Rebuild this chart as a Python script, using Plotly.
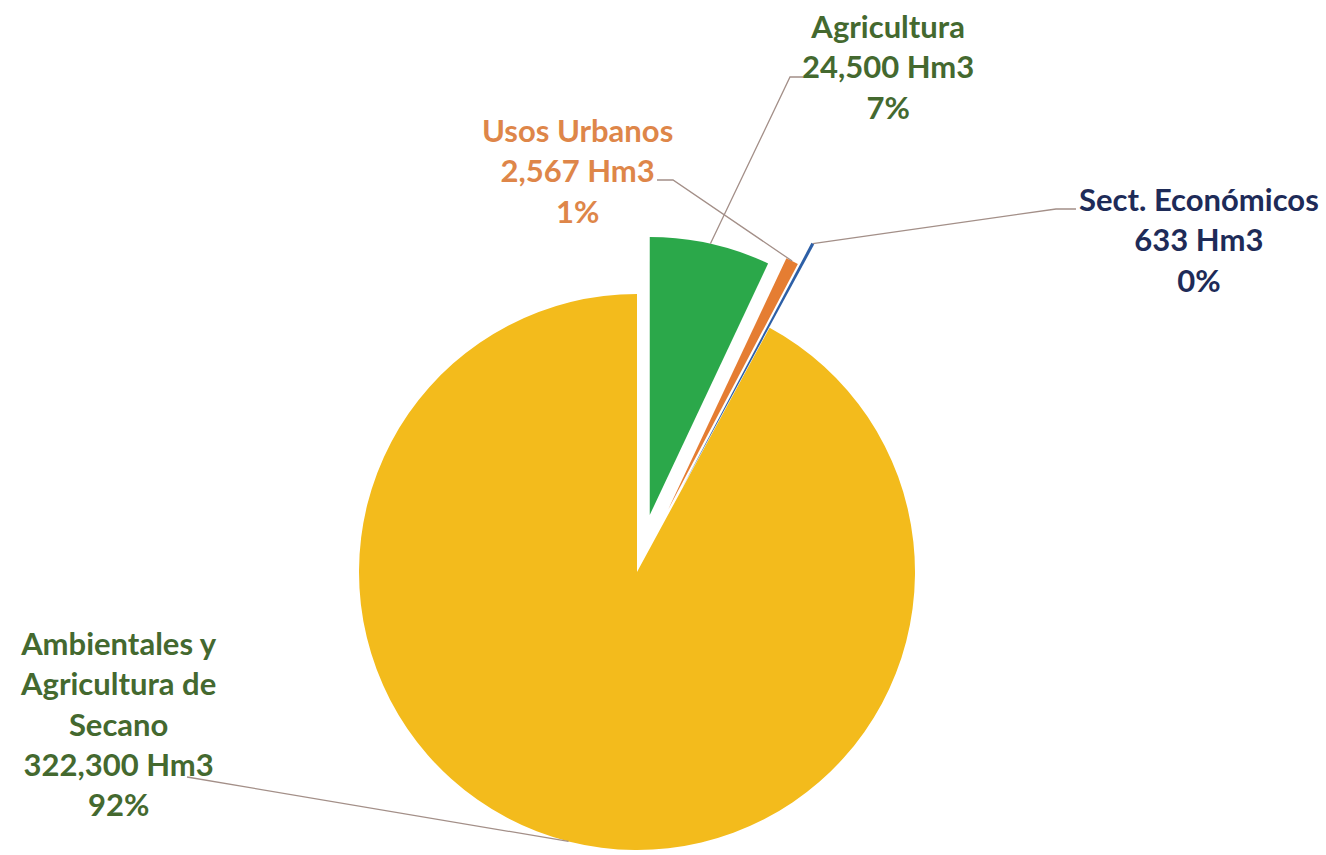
import math
import plotly.graph_objects as go

# Water use by sector (Hm3)
categories = ["Agricultura", "Usos Urbanos", "Sect. Económicos",
              "Ambientales y Agricultura de Secano"]
volumes_hm3 = [24500, 2567, 633, 322300]
label_lines = [["Agricultura"], ["Usos Urbanos"], ["Sect. Económicos"],
               ["Ambientales y", "Agricultura de", "Secano"]]

# Styling
slice_colors = ["#2BA84A", "#E57D32", "#2D5FA6", "#F3BB1C"]
text_colors = ["#44692F", "#DE8649", "#1E2B58", "#44692F"]
explode = [0.21, 0.25, 0.34, 0.0]          # fraction of radius
leader_color = "#A38F88"

W, H = 1326, 855
CX, CY, R = 637, 572, 278                  # pie centre / radius in pixels

# Label placement (centre x, centre y) and leader-line anchor points near the text
label_pos = [(888, 66), (577, 170), (1199, 239), (118, 723)]
leader_text_pts = [[(803, 77), (790, 77)],
                   [(657, 180), (673, 180)],
                   [(1076, 209), (1056, 209)],
                   [(187, 777)]]

total = sum(volumes_hm3)
fractions = [v / total for v in volumes_hm3]
mid_angles = []
acc = 0.0
for f in fractions:
    mid_angles.append((acc + f / 2) * 2 * math.pi)   # clockwise from 12 o'clock
    acc += f


def px_to_paper(x, y):
    return x / W, 1 - y / H


fig = go.Figure()

# One pie per slice so each slice can be offset on its own; the other slices stay transparent
draw_order = [3, 0, 1, 2]
for i in draw_order:
    a = mid_angles[i]
    cx = CX + explode[i] * R * math.sin(a)
    cy = CY - explode[i] * R * math.cos(a)
    colors = ["rgba(0,0,0,0)"] * len(volumes_hm3)
    colors[i] = slice_colors[i]
    fig.add_trace(go.Pie(
        labels=categories,
        values=volumes_hm3,
        sort=False,
        direction="clockwise",
        rotation=0,
        marker=dict(colors=colors, line=dict(width=0)),
        textinfo="none",
        hoverinfo="skip",
        showlegend=False,
        domain=dict(x=[(cx - R) / W, (cx + R) / W],
                    y=[1 - (cy + R) / H, 1 - (cy - R) / H]),
    ))

# Data labels and leader lines
for i, cat in enumerate(categories):
    pct = round(fractions[i] * 100)
    text = "<br>".join(label_lines[i] + [f"{volumes_hm3[i]:,} Hm3", f"{pct}%"])
    lx, ly = px_to_paper(*label_pos[i])
    fig.add_annotation(
        x=lx, y=ly, xref="paper", yref="paper",
        text=text, showarrow=False,
        xanchor="center", yanchor="middle", align="center",
        font=dict(family="Lato", size=31, color=text_colors[i], weight="bold"),
    )

    # leader ends on the outer edge of the (offset) slice at its mid angle
    a = mid_angles[i]
    dist = R * (1 + explode[i])
    ex = CX + dist * math.sin(a)
    ey = CY - dist * math.cos(a)
    pts = leader_text_pts[i] + [(ex, ey)]
    path = ""
    for k, (x, y) in enumerate(pts):
        px, py = px_to_paper(x, y)
        path += ("M" if k == 0 else " L") + f" {px:.5f} {py:.5f}"
    fig.add_shape(type="path", path=path, xref="paper", yref="paper",
                  line=dict(color=leader_color, width=1.3))

fig.update_layout(
    width=W, height=H,
    margin=dict(l=0, r=0, t=0, b=0),
    paper_bgcolor="white",
    plot_bgcolor="white",
)

fig.write_html("out.html")
